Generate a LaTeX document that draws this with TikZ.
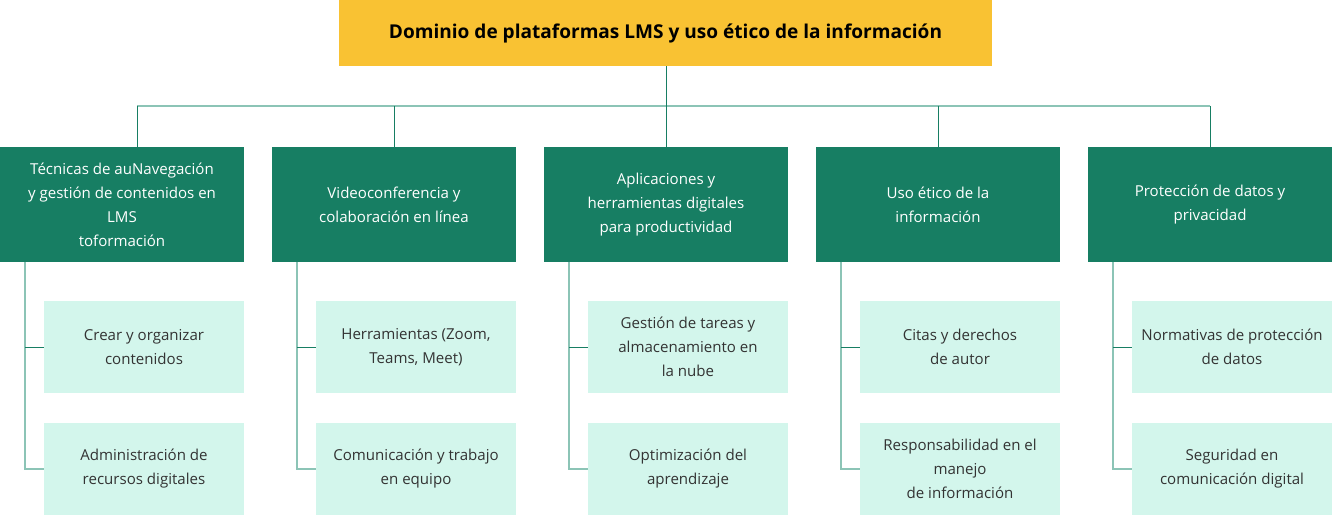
\documentclass[tikz,border=0pt]{standalone}
\usepackage{fontspec}
\setmainfont{Open Sans}

\definecolor{titlegold}{HTML}{F9C233}
\definecolor{headgreen}{HTML}{177E63}
\definecolor{leafmint}{HTML}{D3F6EC}
\definecolor{linkteal}{HTML}{8CC4B6}
\definecolor{leaftext}{HTML}{333333}

\tikzset{
  titlebox/.style={fill=titlegold, minimum width=489.75pt, minimum height=49.5pt,
    inner sep=0pt, font=\fontsize{14.3}{18}\selectfont\bfseries},
  headbox/.style={fill=headgreen, text=white, minimum width=183pt, minimum height=86.25pt,
    inner sep=0pt, align=center, font=\fontsize{11.3}{18}\selectfont},
  leafbox/.style={fill=leafmint, text=leaftext, minimum width=150pt, minimum height=69pt,
    inner sep=0pt, align=center, font=\fontsize{11.3}{18}\selectfont},
  busline/.style={draw=linkteal, line width=1.2pt},
  dropline/.style={draw=headgreen, line width=0.75pt},
}

\begin{document}
\begin{tikzpicture}[x=0.75pt,y=-0.75pt]

\useasboundingbox[fill=white] (0,0) rectangle (1333,516);

% title
\node[titlebox] (title) at (665.5,33)
{Dominio de plataformas LMS y uso ético de la información};

% headers
\node[headbox] (h1) at (122,204.5)
{Técnicas de auNavegación\\y gestión de contenidos en\\LMS\\toformación};
\node[headbox] (h2) at (394,204.5)
{Videoconferencia y\\colaboración en línea};
\node[headbox] (h3) at (666,204.5)
{Aplicaciones y\\herramientas digitales\\para productividad};
\node[headbox] (h4) at (938,204.5)
{Uso ético de la\\información};
\node[headbox] (h5) at (1210,204.5)
{Protección de datos y\\privacidad};

% leaves
\node[leafbox] (l1a) at (144,347) {Crear y organizar\\contenidos};
\node[leafbox] (l1b) at (144,469) {Administración de\\recursos digitales};
\node[leafbox] (l2a) at (416,347) {Herramientas (Zoom,\\Teams, Meet)};
\node[leafbox] (l2b) at (416,469) {Comunicación y trabajo\\en equipo};
\node[leafbox] (l3a) at (688,347) {Gestión de tareas y\\almacenamiento en\\la nube};
\node[leafbox] (l3b) at (688,469) {Optimización del\\aprendizaje};
\node[leafbox] (l4a) at (960,347) {Citas y derechos\\de autor};
\node[leafbox] (l4b) at (960,469) {Responsabilidad en el\\manejo\\de información};
\node[leafbox] (l5a) at (1232,347) {Normativas de protección\\de datos};
\node[leafbox] (l5b) at (1232,469) {Seguridad en\\comunicación digital};

% bus
\coordinate (busL) at (137,106);
\coordinate (busM) at (666,106);
\coordinate (busR) at (1210,106);
\draw[busline] (busL) -- (busR);
\draw[dropline] (title.south -| busM) -- (busM);
\draw[dropline] (busL) -- (busL |- h1.north);
\draw[dropline] (h2.north |- busM) -- (h2.north);
\draw[dropline] (h3.north |- busM) -- (h3.north);
\draw[dropline] (h4.north |- busM) -- (h4.north);
\draw[dropline] (h5.north |- busM) -- (h5.north);

% spines
\coordinate (k1) at (25,262);
\coordinate (k2) at (297,262);
\coordinate (k3) at (569,262);
\coordinate (k4) at (841,262);
\coordinate (k5) at (1113,262);
\draw[busline] (k1) |- (l1b.west);
\draw[dropline] (k1 |- l1a.west) -- (l1a.west);
\draw[busline] (k2) |- (l2b.west);
\draw[dropline] (k2 |- l2a.west) -- (l2a.west);
\draw[busline] (k3) |- (l3b.west);
\draw[dropline] (k3 |- l3a.west) -- (l3a.west);
\draw[busline] (k4) |- (l4b.west);
\draw[dropline] (k4 |- l4a.west) -- (l4a.west);
\draw[busline] (k5) |- (l5b.west);
\draw[dropline] (k5 |- l5a.west) -- (l5a.west);

\end{tikzpicture}
\end{document}
